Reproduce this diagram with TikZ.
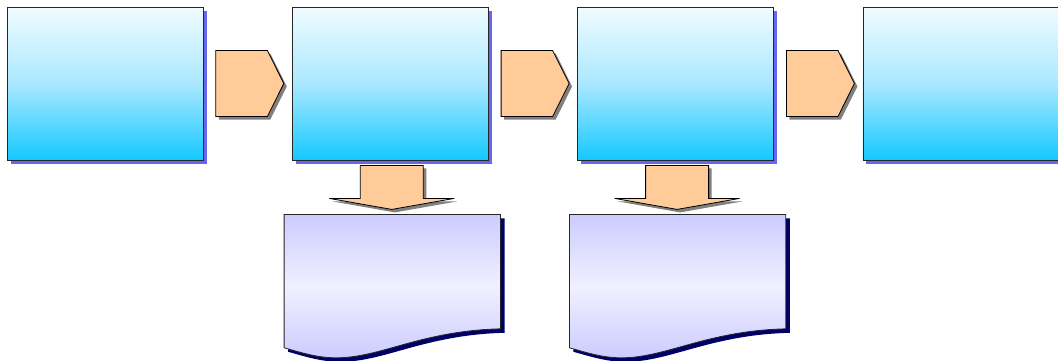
\documentclass[tikz,border=0pt]{standalone}
\usepackage{tikz}
\usetikzlibrary{positioning,shapes.symbols,shadows}
\definecolor{StageTop}{RGB}{240,252,255}
\definecolor{StageMid}{RGB}{170,232,255}
\definecolor{StageBot}{RGB}{20,200,255}
\definecolor{StageShadow}{RGB}{102,102,238}
\definecolor{ArrowFill}{RGB}{255,204,153}
\definecolor{ArrowShadow}{RGB}{128,128,128}
\definecolor{DocEdge}{RGB}{204,204,255}
\definecolor{DocMid}{RGB}{240,240,255}
\definecolor{DocShadow}{RGB}{0,0,102}

\begin{document}
\begin{tikzpicture}[x=1pt,y=1pt,node distance=88.5pt,
  stagebox/.style={draw=black!85,line width=0.8pt,minimum width=196pt,
    minimum height=153pt,inner sep=0pt,top color=StageTop,bottom color=StageBot,
    middle color=StageMid,drop shadow={shadow xshift=3.5pt,shadow yshift=-3.5pt,
    fill=StageShadow,opacity=1}},
  nextarrow/.style={signal,signal to=east,signal pointer angle=127,draw=black,
    line width=0.8pt,fill=ArrowFill,minimum width=68pt,minimum height=66pt,
    inner sep=0pt,drop shadow={shadow xshift=3pt,shadow yshift=-3pt,
    fill=ArrowShadow,opacity=1}},
  downarrow/.style={draw=black,line width=0.8pt,fill=ArrowFill,
    drop shadow={shadow xshift=3pt,shadow yshift=-3pt,fill=ArrowShadow,opacity=1}},
  docpage/.style={draw=black!85,line width=0.8pt,top color=DocEdge,
    bottom color=DocEdge,middle color=DocMid,drop shadow={shadow xshift=4pt,
    shadow yshift=-4pt,fill=DocShadow,opacity=1}},
  docarea/.style={minimum width=216pt,minimum height=114pt,inner sep=0pt}]
\useasboundingbox (0,0) rectangle (1058,-360);

% top row of stages
\node[stagebox] (stage1) at (105,-83.5) {};
\node[stagebox,right=of stage1] (stage2) {};
\node[stagebox,right=of stage2] (stage3) {};
\node[stagebox,right=of stage3] (stage4) {};

% arrows between the stages
\node[nextarrow,right=12pt of stage1] (next1) {};
\node[nextarrow,right=12pt of stage2] (next2) {};
\node[nextarrow,right=12pt of stage3] (next3) {};

% arrows down to the documents
\draw[downarrow] ([xshift=-30pt,yshift=-5pt]stage2.south) -- ++(63,0) -- ++(0,-33)
  -- ++(31,0) -- ++(-62.5,-11) -- ++(-62.5,11) -- ++(31,0) -- cycle;
\draw[downarrow] ([xshift=-30pt,yshift=-5pt]stage3.south) -- ++(63,0) -- ++(0,-33)
  -- ++(31,0) -- ++(-62.5,-11) -- ++(-62.5,11) -- ++(31,0) -- cycle;

% documents
\node[docarea,below=54pt of stage2,xshift=2pt] (doc2) {};
\node[docarea,below=54pt of stage3,xshift=2pt] (doc3) {};
\path[docpage] (doc2.north west) -- (doc2.north east) -- (doc2.south east)
  .. controls +(-80,-2) and +(45,0) .. ([shift={(52,-29)}]doc2.south west)
  .. controls +(-20,0) and +(15,-4) .. ([yshift=-19pt]doc2.south west) -- cycle;
\path[docpage] (doc3.north west) -- (doc3.north east) -- (doc3.south east)
  .. controls +(-80,-2) and +(45,0) .. ([shift={(52,-29)}]doc3.south west)
  .. controls +(-20,0) and +(15,-4) .. ([yshift=-19pt]doc3.south west) -- cycle;
\end{tikzpicture}
\end{document}
